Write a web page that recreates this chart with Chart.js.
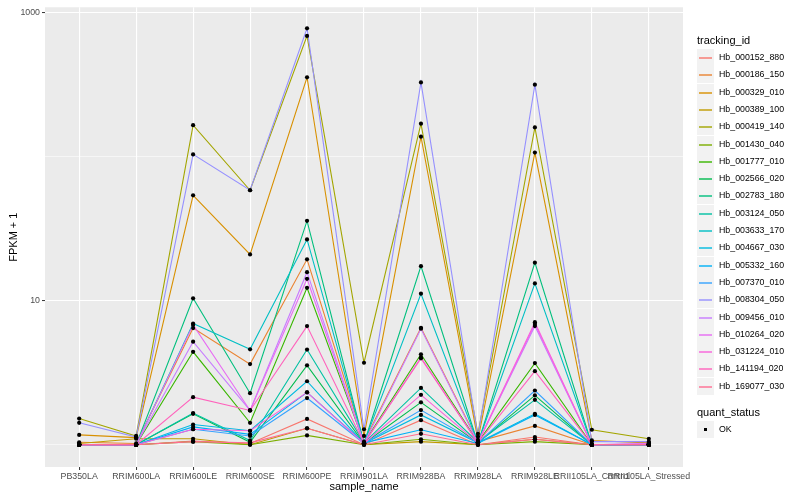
<!DOCTYPE html>
<html>
<head>
<meta charset="utf-8">
<script src="https://cdn.jsdelivr.net/npm/chart.js@4.4.1/dist/chart.umd.min.js"></script>
<style>
    body { margin: 0; background: #fff; font-family: "Liberation Sans", Arial, sans-serif; }
    #wrap { position: relative; width: 800px; height: 500px; }
    #legend { position: absolute; left: 697px; top: 0; width: 103px; height: 500px; }
    .lg-title { position: absolute; left: 0; font-size: 11px; color: #000; line-height: 11px; }
    .lg-key { position: absolute; left: 0; width: 17px; height: 17px; background: #f2f2f2; }
    .lg-line { position: absolute; left: 2px; right: 2px; top: 8px; height: 2px; opacity: 0.7; }
    .lg-dot { position: absolute; left: 7px; top: 7px; width: 3px; height: 3px; background: #000; }
    .lg-text { position: absolute; left: 22px; font-size: 8.8px; color: #000; line-height: 9px; white-space: nowrap; }
</style>
</head>
<body>
<div id="wrap">
    <canvas id="chart" width="800" height="500"></canvas>
    <div id="legend"></div>
</div>
<script>
const categories = ['PB350LA', 'RRIM600LA', 'RRIM600LE', 'RRIM600SE', 'RRIM600PE', 'RRIM901LA',
    'RRIM928BA', 'RRIM928LA', 'RRIM928LE', 'RRII105LA_Control', 'RRII105LA_Stressed'];

const seriesNames = ['Hb_000152_880', 'Hb_000186_150', 'Hb_000329_010', 'Hb_000389_100', 'Hb_000419_140',
    'Hb_001430_040', 'Hb_001777_010', 'Hb_002566_020', 'Hb_002783_180', 'Hb_003124_050',
    'Hb_003633_170', 'Hb_004667_030', 'Hb_005332_160', 'Hb_007370_010', 'Hb_008304_050',
    'Hb_009456_010', 'Hb_010264_020', 'Hb_031224_010', 'Hb_141194_020', 'Hb_169077_030'];

const seriesColors = ['#F8766D', '#EA8331', '#D89000', '#C09B00', '#A3A500', '#7CAE00', '#39B600', '#00BB4E',
    '#00BF7D', '#00C1A3', '#00BFC4', '#00BAE0', '#00B0F6', '#35A2FF', '#9590FF', '#C77CFF',
    '#E76BF3', '#FA62DB', '#FF62BC', '#FF6C91'];

// FPKM + 1 по образцам (порядок как в categories)
const hb_000152_880 = [1.00, 1.00, 1.06, 1.02, 1.51, 1.00, 1.48, 1.00, 1.13, 1.00, 1.00];
const hb_000186_150 = [1.04, 1.02, 6.46, 3.63, 19.4, 1.05, 6.49, 1.05, 1.35, 1.00, 1.00];
const hb_000329_010 = [1.17, 1.12, 54.0, 21.0, 357, 1.15, 138, 1.08, 107, 1.07, 1.03];
const hb_000389_100 = [1.02, 1.10, 1.10, 1.00, 1.30, 1.00, 1.05, 1.00, 1.09, 1.00, 1.00];
const hb_000419_140 = [1.52, 1.15, 166, 58.6, 692, 3.71, 170, 1.19, 160, 1.27, 1.10];
const hb_001430_040 = [1.00, 1.00, 1.05, 1.00, 1.16, 1.00, 1.09, 1.00, 1.05, 1.00, 1.00];
const hb_001777_010 = [1.00, 1.00, 4.42, 1.42, 12.3, 1.03, 4.25, 1.04, 3.69, 1.00, 1.00];
const hb_002566_020 = [1.00, 1.00, 1.64, 1.04, 3.56, 1.02, 1.97, 1.03, 2.20, 1.00, 1.00];
const hb_002783_180 = [1.00, 1.00, 10.4, 2.28, 35.9, 1.02, 17.4, 1.02, 18.4, 1.00, 1.00];
const hb_003124_050 = [1.00, 1.00, 1.66, 1.07, 4.58, 1.03, 2.48, 1.04, 2.05, 1.00, 1.00];
const hb_003633_170 = [1.00, 1.00, 6.95, 4.60, 26.7, 1.03, 11.2, 1.03, 13.2, 1.00, 1.00];
const hb_004667_030 = [1.00, 1.00, 1.38, 1.25, 2.76, 1.02, 1.61, 1.03, 1.64, 1.00, 1.00];
const hb_005332_160 = [1.00, 1.00, 1.33, 1.18, 2.31, 1.03, 1.27, 1.02, 1.61, 1.00, 1.00];
const hb_007370_010 = [1.00, 1.00, 1.28, 1.15, 2.11, 1.02, 1.74, 1.03, 2.38, 1.00, 1.00];
const hb_008304_050 = [1.42, 1.13, 104, 58.6, 781, 1.28, 329, 1.14, 317, 1.05, 1.05];
const hb_009456_010 = [1.00, 1.00, 5.20, 1.73, 15.8, 1.02, 6.40, 1.03, 6.67, 1.00, 1.02];
const hb_010264_020 = [1.00, 1.00, 6.80, 1.73, 14.2, 1.02, 4.04, 1.03, 6.90, 1.00, 1.02];
const hb_031224_010 = [1.00, 1.00, 1.28, 1.25, 2.31, 1.02, 2.22, 1.03, 7.10, 1.00, 1.00];
const hb_141194_020 = [1.00, 1.00, 2.14, 1.73, 6.67, 1.02, 3.98, 1.03, 3.24, 1.00, 1.00];
const hb_169077_030 = [1.00, 1.00, 1.05, 1.03, 1.30, 1.00, 1.19, 1.00, 1.09, 1.00, 1.00];

const seriesValues = [hb_000152_880, hb_000186_150, hb_000329_010, hb_000389_100, hb_000419_140,
    hb_001430_040, hb_001777_010, hb_002566_020, hb_002783_180, hb_003124_050,
    hb_003633_170, hb_004667_030, hb_005332_160, hb_007370_010, hb_008304_050,
    hb_009456_010, hb_010264_020, hb_031224_010, hb_141194_020, hb_169077_030];

const yGridValues = [1, 10, 100, 1000];
const yLabelValues = [10, 1000];

// --- датасеты: сначала линии, точки отдельным слоем поверх ---
const datasets = seriesValues.map((vals, i) => ({
    type: 'line',
    label: seriesNames[i],
    data: vals.map((v, j) => ({x: j, y: v})),
    borderColor: seriesColors[i],
    borderWidth: 1.1,
    pointRadius: 0,
    tension: 0,
    order: 20 - i
}));

const allPoints = [];
seriesValues.forEach(vals => vals.forEach((v, j) => allPoints.push({x: j, y: v})));
datasets.push({
    type: 'scatter',
    label: 'OK',
    data: allPoints,
    backgroundColor: '#000',
    borderColor: '#000',
    pointRadius: 2.1,
    pointBorderWidth: 0,
    order: 0
});

const tickFont = {family: '"Liberation Sans", Arial, sans-serif', size: 8.8};
const titleFont = {family: '"Liberation Sans", Arial, sans-serif', size: 11};

const panelBg = {
    id: 'panelBg',
    beforeDraw(chart) {
        const a = chart.chartArea;
        const ctx = chart.ctx;
        ctx.save();
        ctx.fillStyle = '#EBEBEB';
        ctx.fillRect(a.left, a.top, a.right - a.left, a.bottom - a.top);
        ctx.restore();
    }
};

new Chart(document.getElementById('chart').getContext('2d'), {
    data: {datasets: datasets},
    options: {
        responsive: false,
        animation: false,
        layout: {padding: {left: 7, top: 5, right: 117, bottom: 0}},
        plugins: {
            legend: {display: false},
            tooltip: {enabled: false}
        },
        scales: {
            x: {
                type: 'linear',
                min: -0.6,
                max: categories.length - 1 + 0.6,
                afterBuildTicks: scale => {
                    scale.ticks = categories.map((c, i) => ({value: i}));
                },
                afterFit: scale => { scale.height = 33; },
                ticks: {
                    autoSkip: false,
                    maxRotation: 0,
                    minRotation: 0,
                    padding: 1,
                    color: '#4D4D4D',
                    font: tickFont,
                    callback: v => categories[v]
                },
                grid: {
                    color: '#FFFFFF',
                    lineWidth: 1.1,
                    drawTicks: true,
                    tickLength: 3,
                    tickColor: '#333333',
                    tickWidth: 1
                },
                border: {display: false},
                title: {
                    display: true,
                    text: 'sample_name',
                    color: '#000',
                    font: titleFont,
                    padding: {top: 0, bottom: 6}
                }
            },
            y: {
                type: 'logarithmic',
                min: Math.pow(10, -0.137),
                max: Math.pow(10, 3.039),
                afterBuildTicks: scale => {
                    scale.ticks = yGridValues.map(v => ({value: v}));
                },
                afterFit: scale => { scale.width = 38; },
                ticks: {
                    padding: 2,
                    color: '#4D4D4D',
                    font: tickFont,
                    callback: v => yLabelValues.includes(v) ? String(v) : ''
                },
                grid: {
                    color: '#FFFFFF',
                    lineWidth: ctx => yLabelValues.includes(ctx.tick.value) ? 1.1 : 0.55,
                    drawTicks: true,
                    tickLength: 3,
                    tickColor: ctx => yLabelValues.includes(ctx.tick.value) ? '#333333' : 'rgba(0,0,0,0)',
                    tickWidth: 1
                },
                border: {display: false},
                title: {
                    display: true,
                    text: 'FPKM + 1',
                    color: '#000',
                    font: titleFont,
                    padding: {top: 0, bottom: 0}
                }
            }
        }
    },
    plugins: [panelBg]
});

// --- легенда справа (как у ggplot) ---
const legend = document.getElementById('legend');
let html = '<div class="lg-title" style="top:35px">tracking_id</div>';
seriesNames.forEach((name, i) => {
    const top = Math.round(49 + i * 17.3);
    html += `<div class="lg-key" style="top:${top}px"><div class="lg-line" style="background:${seriesColors[i]}"></div></div>`;
    html += `<div class="lg-text" style="top:${top + 4}px">${name}</div>`;
});
html += '<div class="lg-title" style="top:407px">quant_status</div>';
html += '<div class="lg-key" style="top:421px"><div class="lg-dot"></div></div>';
html += '<div class="lg-text" style="top:425px">OK</div>';
legend.innerHTML = html;
</script>
</body>
</html>
